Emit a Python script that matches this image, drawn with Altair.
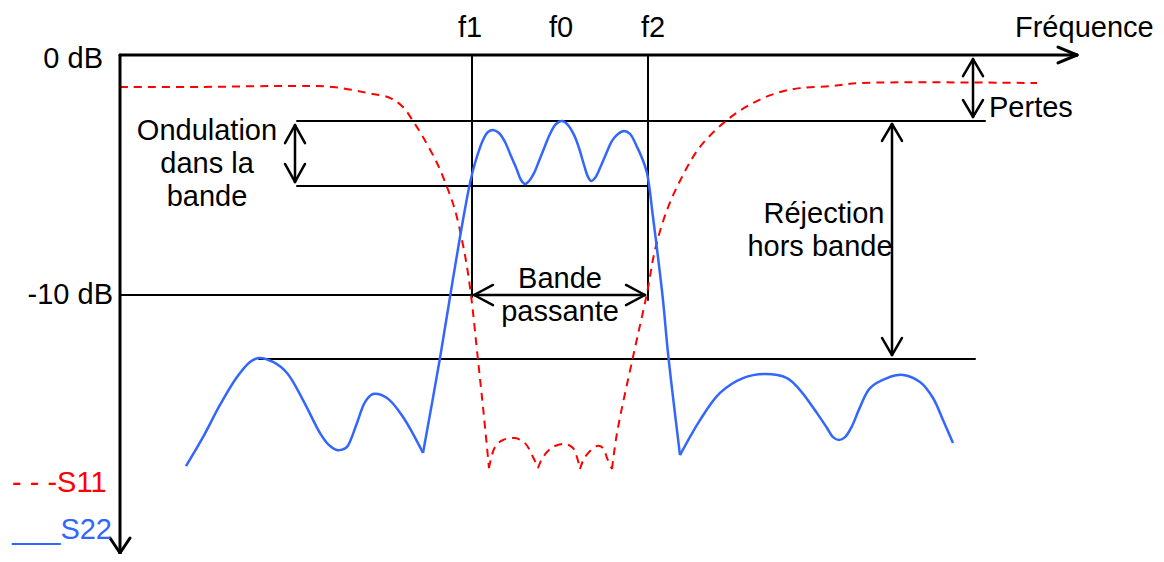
import altair as alt
import pandas as pd

# ---------------- data (frequency in arbitrary units u, level in dB) ----------------
# S11 (red dashed); segments split at the sharp reflection zeros
s11_u = [0, 80, 177, 213, 247, 270, 283, 293, 303, 317, 327, 335, 342, 347, 351, 358, 363, 369,
         369, 375, 383, 395, 405, 413, 418,
         418, 423, 433, 445, 453, 460,
         460, 465, 477, 483, 487, 492,
         492, 497, 513, 527, 535, 547, 562, 580, 607, 633, 657, 680, 713, 740, 917]
s11_db = [-1.33, -1.33, -1.29, -1.33, -1.58, -1.79, -2.17, -2.75, -3.42, -4.5, -5.5, -6.46, -7.71, -8.83, -10.0, -12.71, -14.67, -17.21,
          -17.21, -16.33, -16.04, -15.96, -16.17, -16.75, -17.21,
          -17.21, -16.75, -16.33, -16.21, -16.375, -17.25,
          -17.25, -16.75, -16.29, -16.375, -16.79, -17.25,
          -17.25, -15.75, -12.58, -9.92, -8.125, -6.46, -5.08, -3.83, -2.71, -2.0, -1.58, -1.38, -1.29, -1.17, -1.17]
s11_seg = [0] * 18 + [1] * 7 + [2] * 6 + [3] * 6 + [4] * 15

# S22 (blue solid)
s22_left_u = [66, 83, 100, 117, 130, 139, 153, 167, 183, 200, 208, 217, 222, 227, 237, 245, 253, 267, 283, 303]
s22_left_db = [-17.125, -15.92, -14.58, -13.42, -12.79, -12.625, -12.79, -13.25, -14.375, -15.75, -16.21, -16.46, -16.44, -16.33,
               -15.33, -14.46, -14.125, -14.29, -15.08, -16.58]
s22_mid_u = [303, 320, 330, 340, 350, 355, 363, 368, 373, 379, 385, 391, 397, 401, 405, 409, 414, 419, 425, 430, 436, 442,
             448, 454, 459, 464, 468, 471, 475, 480, 486, 492, 498, 504, 510, 517, 522, 527, 533, 538, 543, 548, 560]
s22_mid_db = [-16.58, -12.625, -10.08, -7.58, -5.33, -4.5, -3.54, -3.21, -3.125, -3.25, -3.625, -4.21, -4.79, -5.21, -5.375,
              -5.25, -4.92, -4.42, -3.79, -3.29, -2.875, -2.75, -2.92, -3.33, -3.875, -4.58, -5.08, -5.25, -5.125, -4.71,
              -4.125, -3.58, -3.29, -3.17, -3.29, -3.83, -4.29, -4.92, -6.75, -8.42, -10.21, -12.42, -16.67]
s22_right_u = [560, 580, 600, 623, 645, 667, 680, 697, 707, 713, 719, 725, 732, 740, 750, 767, 783, 800, 813, 823, 833]
s22_right_db = [-16.67, -15.21, -14.08, -13.46, -13.29, -13.46, -13.96, -14.92, -15.54, -15.92, -16.04, -15.92, -15.46,
                -14.67, -13.875, -13.46, -13.33, -13.625, -14.29, -15.21, -16.17]

# axes (u1, dB1, u2, dB2)
axis_segs = [(0, 0, 957, 0), (938, 0.33, 957, 0), (938, -0.33, 957, 0),
             (0, 0, 0, -20.75), (-10, -20.125, 0, -20.75), (10, -20.125, 0, -20.75)]
# reference lines
ref_segs = [(352, 0, 352, -10.08), (528, 0, 528, -10.21), (0, -10, 352, -10),
            (177, -2.75, 865, -2.75), (177, -5.46, 528, -5.46), (139, -12.67, 855, -12.67)]
# dimension arrows
arrow_segs = [(175, -2.92, 175, -5.29), (165, -3.67, 175, -2.92), (185, -3.67, 175, -2.92),
              (165, -4.54, 175, -5.29), (185, -4.54, 175, -5.29),
              (853, -0.17, 853, -2.58), (843, -0.88, 853, -0.17), (863, -0.88, 853, -0.17),
              (843, -1.875, 853, -2.58), (863, -1.875, 853, -2.58),
              (772, -2.875, 772, -12.5), (762, -3.58, 772, -2.875), (782, -3.58, 772, -2.875),
              (762, -11.79, 772, -12.5), (782, -11.79, 772, -12.5),
              (354, -10, 525, -10), (373, -9.58, 354, -10), (373, -10.42, 354, -10),
              (506, -9.58, 525, -10), (506, -10.42, 525, -10)]

labels_right = [("0 dB", -17, -0.54), ("-10 dB", -7, -10.375)]
labels_center = [("f1", 350, 0.75), ("f0", 441, 0.75), ("f2", 533, 0.75),
                 ("Ondulation", 87, -3.54), ("dans la", 87, -4.92), ("bande", 87, -6.29),
                 ("Réjection", 704, -7.0), ("hors bande", 700, -8.375),
                 ("Bande", 440, -9.71), ("passante", 440, -11.08)]
labels_left = [("Fréquence", 895, 0.75), ("Pertes", 869, -2.58)]
legend_labels = [("- - -S11", -108, -18.21, "#FF0000"), ("___S22", -108, -20.17, "#3366FF")]

# ---------------- chart ----------------
X = alt.Scale(domain=[-112, 1036], nice=False, zero=False)
Y = alt.Scale(domain=[-20.79, 1.958], nice=False, zero=False)
FONT = "Liberation Sans"
FS = 29

s11 = pd.DataFrame({"u": s11_u, "db": s11_db, "seg": s11_seg})
s22 = pd.DataFrame({
    "u": s22_left_u + s22_mid_u + s22_right_u,
    "db": s22_left_db + s22_mid_db + s22_right_db,
    "seg": [0] * len(s22_left_u) + [1] * len(s22_mid_u) + [2] * len(s22_right_u),
})


def segs(lst):
    return pd.DataFrame(lst, columns=["u", "db", "u2", "db2"])


def rule_layer(lst, width):
    return alt.Chart(segs(lst)).mark_rule(color="black", strokeWidth=width, strokeCap="round").encode(
        x=alt.X("u:Q", scale=X, axis=None), y=alt.Y("db:Q", scale=Y, axis=None),
        x2="u2:Q", y2="db2:Q")


def text_layer(lst, align):
    df = pd.DataFrame(lst, columns=["t", "u", "db"])
    return alt.Chart(df).mark_text(align=align, baseline="alphabetic", font=FONT, fontSize=FS, color="black").encode(
        x=alt.X("u:Q", scale=X, axis=None), y=alt.Y("db:Q", scale=Y, axis=None), text="t:N")


red = alt.Chart(s11).mark_line(color="#FF0000", strokeWidth=2, strokeDash=[8, 6], interpolate="catmull-rom").encode(
    x=alt.X("u:Q", scale=X, axis=None), y=alt.Y("db:Q", scale=Y, axis=None), detail="seg:N")
blue = alt.Chart(s22).mark_line(color="#3366FF", strokeWidth=2.5, interpolate="catmull-rom").encode(
    x=alt.X("u:Q", scale=X, axis=None), y=alt.Y("db:Q", scale=Y, axis=None), detail="seg:N")

leg_df = pd.DataFrame(legend_labels, columns=["t", "u", "db", "c"])
legend = alt.Chart(leg_df).mark_text(align="left", baseline="alphabetic", font=FONT, fontSize=FS).encode(
    x=alt.X("u:Q", scale=X, axis=None), y=alt.Y("db:Q", scale=Y, axis=None), text="t:N",
    color=alt.Color("c:N", scale=None))

chart = alt.layer(
    rule_layer(ref_segs, 2),
    red, blue,
    rule_layer(axis_segs, 3),
    rule_layer(arrow_segs, 2.5),
    text_layer(labels_right, "right"),
    text_layer(labels_center, "center"),
    text_layer(labels_left, "left"),
    legend,
).properties(width=1148, height=546, padding=0, autosize="none", background="white").configure_view(stroke=None)

chart.save("out.html", embed_options={"renderer": "svg", "actions": False})
